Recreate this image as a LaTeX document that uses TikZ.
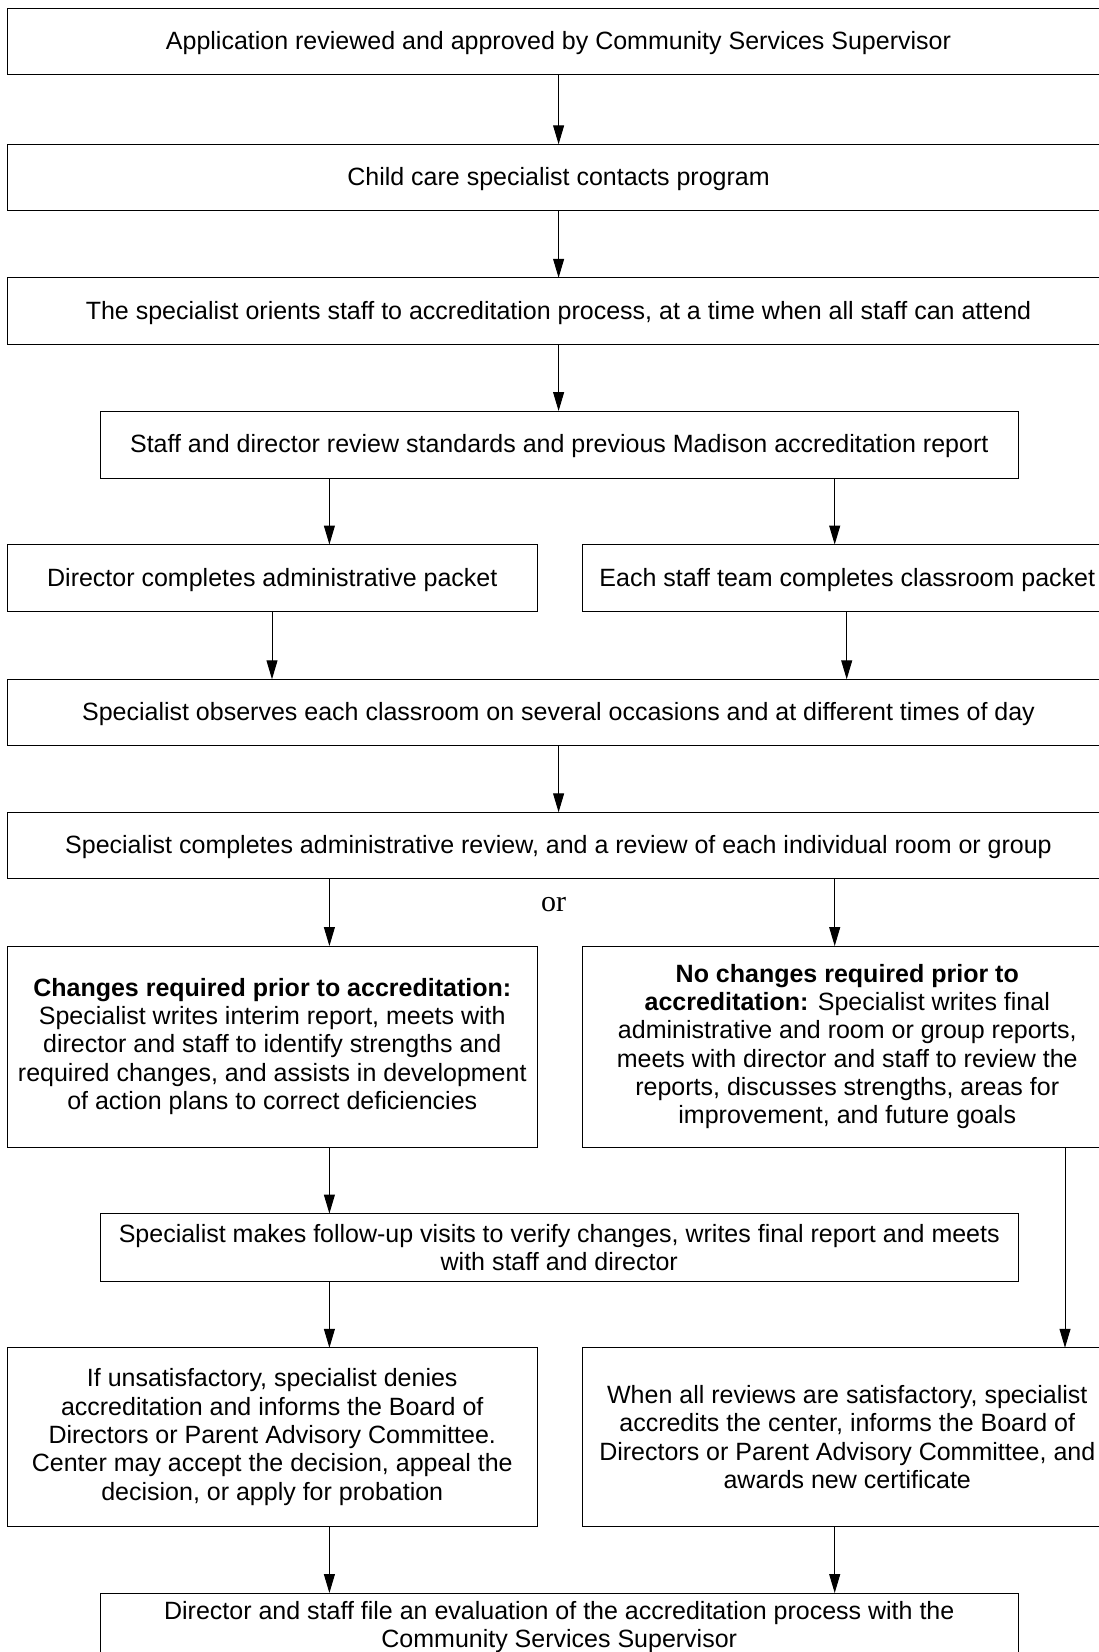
\documentclass[tikz,border=0pt]{standalone}
\usepackage{fontspec}
\setmainfont{Liberation Sans}
\newfontfamily\orfont{Liberation Serif}
\usetikzlibrary{arrows.meta}
\begin{document}
\begin{tikzpicture}[x=1pt,y=-1pt,
  box/.style={draw=black, line width=1pt, rectangle, inner sep=0pt, outer sep=0pt,
    align=center, font=\fontsize{25}{28.3}\selectfont, text=black},
  oneline/.style={text height=20pt, text depth=4pt},
  fullbox/.style={box, oneline, minimum width=1103pt, minimum height=66.5pt},
  midbox/.style={box, minimum width=918.5pt, minimum height=67.5pt},
  halfbox/.style={box, minimum width=529.5pt},
  arr/.style={-{Triangle[length=19pt,width=11pt]}, line width=1pt}]
\useasboundingbox (0,0) rectangle (1099,1652);
\clip (0,0) rectangle (1099,1652);

% boxes
\node[fullbox] (b1) at (558.5,41.25) {Application reviewed and approved by Community Services Supervisor};
\node[fullbox] (b2) at (558.5,177.5) {Child care specialist contacts program};
\node[fullbox] (b3) at (558.5,311) {The specialist orients staff to accreditation process, at a time when all staff can attend};
\node[midbox, oneline] (b4) at (559.25,444.75) {Staff and director review standards and previous Madison accreditation report};
\node[halfbox, oneline, minimum height=67pt] (b5) at (272.25,578) {Director completes administrative packet};
\node[halfbox, oneline, minimum height=67pt] (b6) at (847.25,578) {Each staff team completes classroom packet};
\node[fullbox] (b7) at (558.5,712.5) {Specialist observes each classroom on several occasions and at different times of day};
\node[fullbox] (b8) at (558.5,845.5) {Specialist completes administrative review, and a review of each individual room or group};
\node[font=\orfont\fontsize{30}{30}\selectfont] (or) at (553.5,905) {or};
\node[halfbox, minimum height=201pt] (b9) at (272.25,1046.5) {\textbf{Changes required prior to accreditation:}\\Specialist writes interim report, meets with\\director and staff to identify strengths and\\required changes, and assists in development\\of action plans to correct deficiencies};
\node[halfbox, minimum height=201pt] (b10) at (847.25,1046.5) {\textbf{No changes required prior to}\\\textbf{accreditation:} Specialist writes final\\administrative and room or group reports,\\meets with director and staff to review the\\reports, discusses strengths, areas for\\improvement, and future goals};
\node[midbox, minimum height=68pt] (b11) at (559.25,1247.5) {Specialist makes follow-up visits to verify changes, writes final report and meets\\with staff and director};
\node[halfbox, minimum height=178.5pt] (b12) at (272.25,1437) {If unsatisfactory, specialist denies\\accreditation and informs the Board of\\Directors or Parent Advisory Committee.\\Center may accept the decision, appeal the\\decision, or apply for probation};
\node[halfbox, minimum height=178.5pt] (b13) at (847.25,1437) {When all reviews are satisfactory, specialist\\accredits the center, informs the Board of\\Directors or Parent Advisory Committee, and\\awards new certificate};
\node[midbox, minimum height=68pt] (b14) at (559.25,1627) {Director and staff file an evaluation of the accreditation process with the\\Community Services Supervisor};

% connector columns
\coordinate (xc) at (558.6,0);
\coordinate (xl) at (329.4,0);
\coordinate (xr) at (834.7,0);
\coordinate (xl2) at (272,0);
\coordinate (xr2) at (846.7,0);
\coordinate (xrr) at (1065,0);

\draw[arr] (b1.south -| xc) -- (b2.north -| xc);
\draw[arr] (b2.south -| xc) -- (b3.north -| xc);
\draw[arr] (b3.south -| xc) -- (b4.north -| xc);
\draw[arr] (b4.south -| xl) -- (b5.north -| xl);
\draw[arr] (b4.south -| xr) -- (b6.north -| xr);
\draw[arr] (b5.south -| xl2) -- (b7.north -| xl2);
\draw[arr] (b6.south -| xr2) -- (b7.north -| xr2);
\draw[arr] (b7.south -| xc) -- (b8.north -| xc);
\draw[arr] (b8.south -| xl) -- (b9.north -| xl);
\draw[arr] (b8.south -| xr) -- (b10.north -| xr);
\draw[arr] (b9.south -| xl) -- (b11.north -| xl);
\draw[arr] (b10.south -| xrr) -- (b13.north -| xrr);
\draw[arr] (b11.south -| xl) -- (b12.north -| xl);
\draw[arr] (b12.south -| xl) -- (b14.north -| xl);
\draw[arr] (b13.south -| xr) -- (b14.north -| xr);
\end{tikzpicture}
\end{document}
